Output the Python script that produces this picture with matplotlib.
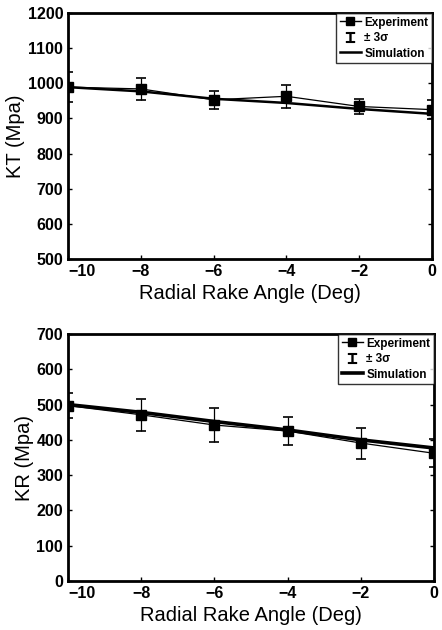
import matplotlib
matplotlib.use("Agg")
import matplotlib.pyplot as plt
import matplotlib.transforms as mtrans
from matplotlib.lines import Line2D

angles = [-10, -8, -6, -4, -2, 0]
kt_exp = [989, 984, 953, 963, 934, 925]
kt_err = [43, 32, 25, 33, 20, 28]
kt_sim = [989, 977, 956, 944, 927, 913]
kr_exp = [497, 471, 442, 425, 391, 362]
kr_err = [35, 45, 48, 40, 44, 40]
kr_sim = [500, 478, 452, 428, 400, 377]
xtick_labels = ['\u221210', '\u22128', '\u22126', '\u22124', '\u22122', '0']

plt.rcParams['font.family'] = ['Liberation Sans', 'DejaVu Sans']
plt.rcParams['font.weight'] = 'bold'

fig = plt.figure(figsize=(4.42, 6.3), dpi=100)
W, H = 442, 630
ax1 = fig.add_axes([68/W, 1-259/H, (432-68)/W, (259-13)/H])
ax2 = fig.add_axes([68/W, 1-581/H, (434-68)/W, (581-334)/H])

def draw(ax, exp, err, sim, ylim, yticks, ylabel, simlw):
    ax.plot(angles, sim, color='black', lw=simlw, zorder=2)
    ax.errorbar(angles, exp, yerr=err, fmt='-s', color='black', lw=0.9,
                ms=7, capsize=3.5, elinewidth=0.9, capthick=1.2, zorder=3)
    ax.set_xlim(-10, 0)
    ax.set_ylim(*ylim)
    ax.set_yticks(yticks)
    ax.set_xticks(angles)
    ax.set_xticklabels(xtick_labels)
    ax.tick_params(direction='in', length=3, width=1, labelsize=11.5, top=False, right=True)
    first = ax.get_xticklabels()[0]
    first.set_transform(first.get_transform() + mtrans.ScaledTranslation(14/100, 0, fig.dpi_scale_trans))
    for s in ax.spines.values():
        s.set_linewidth(2)
    ax.set_xlabel('Radial Rake Angle (Deg)', fontsize=14.5, fontweight='normal', labelpad=4)
    ax.set_ylabel(ylabel, fontsize=14.5, fontweight='normal', labelpad=2)
    h_exp = Line2D([], [], color='black', marker='s', ls='-', lw=1, ms=6)
    h_err = Line2D([], [], color='black', marker='$\u2336$', ls='none', ms=7)
    h_sim = Line2D([], [], color='black', ls='-', lw=simlw)
    leg = ax.legend([h_exp, h_err, h_sim], ['Experiment', '\u00b1 3\u03c3', 'Simulation'],
                    loc='upper right', fontsize=8.5, frameon=True, fancybox=False,
                    handlelength=1.8, handletextpad=0.3, borderpad=0.3, labelspacing=0.3,
                    borderaxespad=0.0)
    leg.get_frame().set_edgecolor('black')
    leg.get_frame().set_linewidth(1)

draw(ax1, kt_exp, kt_err, kt_sim, (500, 1200), range(500, 1201, 100), 'KT (Mpa)', 1.8)
draw(ax2, kr_exp, kr_err, kr_sim, (0, 700), range(0, 701, 100), 'KR (Mpa)', 2.6)

fig.savefig('out.png', dpi=100)
